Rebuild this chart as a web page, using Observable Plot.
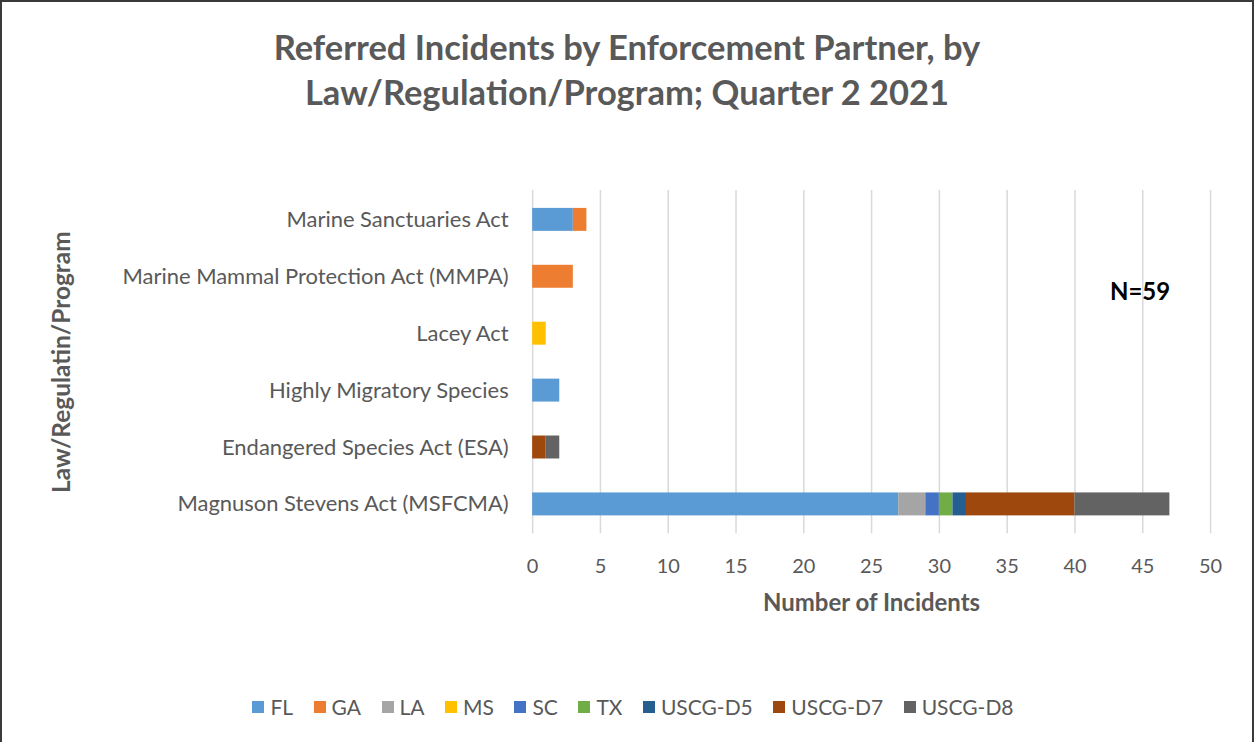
<!DOCTYPE html>
<html>
<head>
<meta charset="utf-8">
<script src="https://cdn.jsdelivr.net/npm/d3@7"></script>
<script src="https://cdn.jsdelivr.net/npm/@observablehq/plot@0.6"></script>
<style>
  html, body { margin: 0; padding: 0; background: #fff; }
  #frame { position: relative; width: 1250px; height: 740px; border: 2px solid #3a3a3a; border-bottom: none; overflow: hidden; font-family: Lato, "Open Sans", sans-serif; color: #595959; }
  #title { position: absolute; left: 0; top: 22px; width: 100%; text-align: center; font-weight: bold; font-size: 34.5px; line-height: 45px; color: #595959; }
  #chart { position: absolute; left: -2px; top: 138px; }
  #legend { position: absolute; left: 6px; top: 692px; width: 100%; display: flex; justify-content: center; gap: 20.5px; font-size: 21px; color: #595959; }
  #legend .item { display: flex; align-items: center; gap: 6px; }
  #legend .sw { width: 12px; height: 12px; display: inline-block; }
</style>
</head>
<body>
<div id="frame">
  <div id="title">Referred Incidents by Enforcement Partner, by<br>Law/Regulation/Program; Quarter 2 2021</div>
  <div id="chart"></div>
  <div id="legend"></div>
</div>
<script>
// Categories (top to bottom as shown)
const laws = [
  "Marine Sanctuaries Act",
  "Marine Mammal Protection Act (MMPA)",
  "Lacey Act",
  "Highly Migratory Species",
  "Endangered Species Act (ESA)",
  "Magnuson Stevens Act (MSFCMA)"
];
const partners = ["FL", "GA", "LA", "MS", "SC", "TX", "USCG-D5", "USCG-D7", "USCG-D8"];
const partnerColors = ["#5B9BD5", "#ED7D31", "#A5A5A5", "#FFC000", "#4472C4", "#70AD47", "#255E91", "#9E480E", "#636363"];

// Counts per partner, in the order of `laws`
const FL      = [3, 0, 0, 2, 0, 27];
const GA      = [1, 3, 0, 0, 0, 0];
const LA      = [0, 0, 0, 0, 0, 2];
const MS      = [0, 0, 1, 0, 0, 0];
const SC      = [0, 0, 0, 0, 0, 1];
const TX      = [0, 0, 0, 0, 0, 1];
const USCG_D5 = [0, 0, 0, 0, 0, 1];
const USCG_D7 = [0, 0, 0, 0, 1, 8];
const USCG_D8 = [0, 0, 0, 0, 1, 7];

const xTicks = [0, 5, 10, 15, 20, 25, 30, 35, 40, 45, 50];
const xTitle = "Number of Incidents";
const yTitle = "Law/Regulatin/Program";
const annotation = "N=59";

const seriesValues = [FL, GA, LA, MS, SC, TX, USCG_D5, USCG_D7, USCG_D8];
const rows = [];
partners.forEach((p, i) => {
  laws.forEach((law, j) => {
    const v = seriesValues[i][j];
    if (v > 0) rows.push({law, partner: p, count: v});
  });
});

const plot = Plot.plot({
  width: 1254,
  height: 512,
  marginTop: 50,
  marginBottom: 118,
  marginLeft: 533,
  marginRight: 42,
  style: {fontFamily: "Lato, 'Open Sans', sans-serif", fontSize: "20px", color: "#595959", background: "transparent"},
  x: {domain: [0, 50], ticks: xTicks, label: null},
  y: {domain: laws, paddingInner: 0.6, paddingOuter: 0.3, label: null},
  color: {domain: partners, range: partnerColors},
  marks: [
    Plot.gridX(xTicks, {stroke: "#d9d9d9", strokeOpacity: 1, strokeWidth: 1.5}),
    Plot.barX(rows, Plot.stackX({y: "law", x: "count", fill: "partner", order: partners})),
    Plot.axisX({ticks: xTicks, tickSize: 0, tickPadding: 25, fontSize: 20, label: null}),
    Plot.axisY({tickSize: 0, tickPadding: 24, fontSize: 22, label: null}),
    Plot.text([xTitle], {frameAnchor: "bottom", dy: 77, text: d => d, fontSize: 24, fontWeight: "bold", fill: "#595959"}),
    Plot.text([yTitle], {frameAnchor: "left", dx: -471, rotate: -90, textAnchor: "middle", text: d => d, fontSize: 24.5, fontWeight: "bold", fill: "#595959"}),
    Plot.text([annotation], {x: 44.8, y: () => laws[1], dy: 16, text: d => d, fontSize: 24, fontWeight: "bold", fill: "#000"})
  ]
});
document.getElementById("chart").appendChild(plot);

const legend = document.getElementById("legend");
partners.forEach((p, i) => {
  const item = document.createElement("span");
  item.className = "item";
  item.innerHTML = `<span class="sw" style="background:${partnerColors[i]}"></span><span>${p}</span>`;
  legend.appendChild(item);
});
</script>
</body>
</html>
